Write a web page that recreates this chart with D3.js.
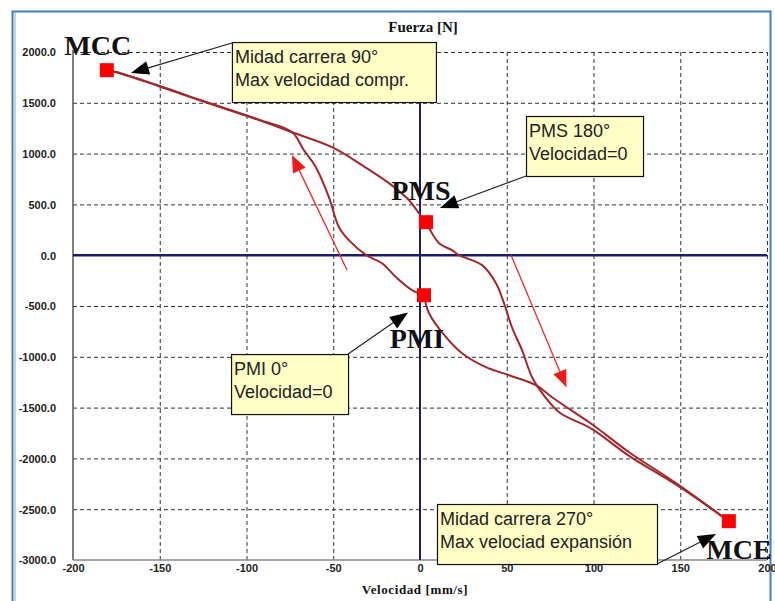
<!DOCTYPE html>
<html>
<head>
<meta charset="utf-8">
<script src="https://cdn.jsdelivr.net/npm/d3@7"></script>
<style>
  html, body { margin: 0; padding: 0; background: #ffffff; }
  svg { display: block; }
</style>
</head>
<body>
<svg id="chart" width="775" height="601"></svg>
<script>
// ---- Data (velocity in mm/s, force in N) ----
// Branch 1: PMI -> MCC (compression, lower-left branch)
const compInVel   = [2.3, -4.6, -13.8, -21.9, -31, -41, -46.7, -52.5, -60, -66.9, -73.8, -92.8, -127, -150, -175, -180.5];
const compInForce = [-394, -344, -217, -79, 0, 148, 276, 571, 866, 1033, 1212, 1334, 1530, 1666, 1804, 1821];
// Branch 2: MCC -> PMS (upper branch)
const compOutVel   = [-180.5, -175, -150.5, -127.4, -92.8, -73.8, -50.7, -33.4, -17.9, -6.3, -0.6, 3.5];
const compOutForce = [1821, 1801, 1663, 1526, 1329, 1210, 1063, 886, 709, 541, 413, 325];
// Branch 3: PMS -> MCE (expansion, right branch)
const expInVel   = [3.5, 11, 18.5, 22.5, 35.8, 43.8, 48.4, 53, 58.8, 64.6, 70.4, 80.2, 99.2, 120.5, 149.4, 178];
const expInForce = [325, 118, 49, 0, -98, -276, -472, -709, -935, -1201, -1358, -1545, -1712, -1975, -2278, -2618];
// Branch 4: MCE -> PMI (lower branch)
const expOutVel   = [178, 149.4, 120.5, 101.5, 95.7, 76.1, 66.9, 51.3, 38, 24.2, 15, 5.2, 2.3];
const expOutForce = [-2618, -2264, -1939, -1693, -1624, -1398, -1280, -1181, -1102, -965, -807, -571, -394];

// Key points
const pointNames = ["MCC", "PMS", "PMI", "MCE"];
const pointVel   = [-180.5, 3.5, 2.3, 178];
const pointForce = [1821, 325, -394, -2618];

// Direction arrows [fromVel, fromForce, toVel, toForce]
const flowArrows = [[-42, -148, -73.8, 985], [52.5, 0, 84.4, -1300]];

// Callouts
const calloutLines = [
  ["Midad carrera 90°", "Max velocidad compr."],
  ["PMS 180°", "Velocidad=0"],
  ["PMI 0°", "Velocidad=0"],
  ["Midad carrera 270°", "Max velociad expansión"]
];
const calloutBoxVel   = [-108.4, 61.1, -108.9, 9.8];
const calloutBoxForce = [2098, 1370, -973, -2449];
const calloutTipVel   = [-166.6, 11.5, -6.9, 170.6];
const calloutTipForce = [1793, 465, -563, -2744];

// Big labels
const labelVel   = [-205, -16.5, -17.5, 165];
const labelForce = [1970, 540, -915, -2990];

// Ticks
const xTicks = [-200, -150, -100, -50, 0, 50, 100, 150, 200];
const yTicks = [-3000, -2500, -2000, -1500, -1000, -500, 0, 500, 1000, 1500, 2000];

// ---- Layout ----
const svg = d3.select("#chart");
const x = d3.scaleLinear().domain([-200, 200]).range([73, 767]);
const y = d3.scaleLinear().domain([-3000, 2000]).range([560, 52]);
const hyphen = s => s.replace(/\u2212/g, "-");

// outer frame
svg.append("rect").attr("x", 12.5).attr("y", 11.5).attr("width", 758).attr("height", 600)
  .attr("fill", "#ffffff").attr("stroke", "#3d7fc4").attr("stroke-width", 2);
svg.append("line").attr("x1", 15).attr("x2", 15).attr("y1", 13).attr("y2", 601)
  .attr("stroke", "#9aa4b0").attr("stroke-width", 1);

// grid
const grid = svg.append("g");
grid.selectAll("line.h").data(yTicks.filter(d => d !== 0 && d !== -3000)).enter().append("line")
  .attr("x1", x(-200)).attr("x2", x(200))
  .attr("y1", d => y(d) + 0.5).attr("y2", d => y(d) + 0.5)
  .attr("stroke", "#333").attr("stroke-width", 1).attr("stroke-dasharray", "4,3");
grid.selectAll("line.v").data(xTicks.filter(d => d !== 0 && d !== -200)).enter().append("line")
  .attr("x1", d => x(d) + 0.5).attr("x2", d => x(d) + 0.5)
  .attr("y1", y(2000)).attr("y2", y(-3000))
  .attr("stroke", "#333").attr("stroke-width", 1).attr("stroke-dasharray", "4,3");

// axes frame lines
svg.append("line").attr("x1", x(-200)).attr("x2", x(-200)).attr("y1", y(2000) - 2).attr("y2", y(-3000))
  .attr("stroke", "#555").attr("stroke-width", 1.5);
svg.append("line").attr("x1", x(-200)).attr("x2", x(200)).attr("y1", y(-3000)).attr("y2", y(-3000))
  .attr("stroke", "#888").attr("stroke-width", 1.5);

// zero axes
svg.append("line").attr("x1", x(-200)).attr("x2", x(200)).attr("y1", y(0)).attr("y2", y(0))
  .attr("stroke", "#1c1c6b").attr("stroke-width", 2.5);
svg.append("line").attr("x1", x(0)).attr("x2", x(0)).attr("y1", y(2000) + 48).attr("y2", y(-3000))
  .attr("stroke", "#1c1c6b").attr("stroke-width", 2);

// tick labels
const yAxis = d3.axisLeft(y).tickValues(yTicks).tickFormat(d => hyphen(d3.format(".1f")(d))).tickSize(0).tickPadding(0);
const gy = svg.append("g").attr("transform", "translate(56,0)").call(yAxis);
gy.select(".domain").remove();
gy.selectAll("text").attr("font-family", "Liberation Sans, Arial, sans-serif")
  .attr("font-size", 11).attr("font-weight", "bold").attr("fill", "#222").attr("dy", "0.35em");

const xAxis = d3.axisBottom(x).tickValues(xTicks).tickFormat(d => hyphen(d3.format("d")(d))).tickSize(0).tickPadding(0);
const gx = svg.append("g").attr("transform", "translate(0,564)").call(xAxis);
gx.select(".domain").remove();
gx.selectAll("text").attr("font-family", "Liberation Sans, Arial, sans-serif")
  .attr("font-size", 11).attr("font-weight", "bold").attr("fill", "#222").attr("dy", "0.71em");

// titles
svg.append("text").attr("x", x(0) + 3).attr("y", 32).attr("text-anchor", "middle")
  .attr("font-family", "Liberation Serif, Times New Roman, serif").attr("font-weight", "bold")
  .attr("font-size", 15).attr("fill", "#111").text("Fuerza [N]");
svg.append("text").attr("x", x(0) - 5).attr("y", 594).attr("text-anchor", "middle")
  .attr("font-family", "Liberation Serif, Times New Roman, serif").attr("font-weight", "bold")
  .attr("font-size", 13).attr("fill", "#111").attr("letter-spacing", 0.6).text("Velocidad [mm/s]");

// curves
const line = d3.line().x(d => x(d[0])).y(d => y(d[1])).curve(d3.curveCatmullRom.alpha(0.5));
const branches = [
  d3.zip(compInVel, compInForce),
  d3.zip(compOutVel, compOutForce),
  d3.zip(expInVel, expInForce),
  d3.zip(expOutVel, expOutForce)
];
svg.append("g").selectAll("path").data(branches).enter().append("path")
  .attr("d", line).attr("fill", "none").attr("stroke", "#a3282c").attr("stroke-width", 2)
  .attr("stroke-linejoin", "round");

// flow arrows
function arrowHead(g, x1, y1, x2, y2, len, wid, color) {
  const a = Math.atan2(y2 - y1, x2 - x1);
  const bx = x2 - len * Math.cos(a), by = y2 - len * Math.sin(a);
  const px = -Math.sin(a) * wid / 2, py = Math.cos(a) * wid / 2;
  g.append("path").attr("d", `M${x2},${y2}L${bx + px},${by + py}L${bx - px},${by - py}Z`).attr("fill", color);
}
const fa = svg.append("g");
flowArrows.forEach(a => {
  const x1 = x(a[0]), y1 = y(a[1]), x2 = x(a[2]), y2 = y(a[3]);
  const ang = Math.atan2(y2 - y1, x2 - x1);
  fa.append("line").attr("x1", x1).attr("y1", y1)
    .attr("x2", x2 - 10 * Math.cos(ang)).attr("y2", y2 - 10 * Math.sin(ang))
    .attr("stroke", "#f02a2a").attr("stroke-width", 1.3);
  arrowHead(fa, x1, y1, x2, y2, 17, 14, "#f01a1a");
});

// key point squares
svg.append("g").selectAll("rect").data(d3.zip(pointVel, pointForce)).enter().append("rect")
  .attr("x", d => x(d[0]) - 7).attr("y", d => y(d[1]) - 7).attr("width", 14).attr("height", 14)
  .attr("fill", "#ff0000");

// callouts
const boxW = [204, 117, 117, 220], boxH = 60;
const co = svg.append("g");
calloutLines.forEach((lines, i) => {
  const bx = x(calloutBoxVel[i]), by = y(calloutBoxForce[i]);
  const tx = x(calloutTipVel[i]), ty = y(calloutTipForce[i]);
  const corners = [[bx, by + 1], [bx, by + boxH], [bx + boxW[i], by], [bx + boxW[i], by + boxH]];
  const c = corners[i];
  const ang = Math.atan2(ty - c[1], tx - c[0]);
  co.append("line").attr("x1", c[0]).attr("y1", c[1])
    .attr("x2", tx - 12 * Math.cos(ang)).attr("y2", ty - 12 * Math.sin(ang))
    .attr("stroke", "#222").attr("stroke-width", 1.2);
  arrowHead(co, c[0], c[1], tx, ty, 18, 14, "#000");
  co.append("rect").attr("x", bx + 0.5).attr("y", by + 0.5).attr("width", boxW[i]).attr("height", boxH)
    .attr("fill", "#ffffc6").attr("stroke", "#111").attr("stroke-width", 1.2);
  lines.forEach((t, j) => {
    co.append("text").attr("x", bx + 3).attr("y", by + 21 + j * 23)
      .attr("font-family", "Liberation Sans, Arial, sans-serif").attr("font-size", 18)
      .attr("fill", "#222").text(t);
  });
});

// big labels
svg.append("g").selectAll("text").data(pointNames).enter().append("text")
  .attr("x", (d, i) => x(labelVel[i])).attr("y", (d, i) => y(labelForce[i]))
  .attr("font-family", "Liberation Serif, Times New Roman, serif").attr("font-weight", "bold")
  .attr("font-size", 28).attr("fill", "#111").text(d => d);
</script>
</body>
</html>
